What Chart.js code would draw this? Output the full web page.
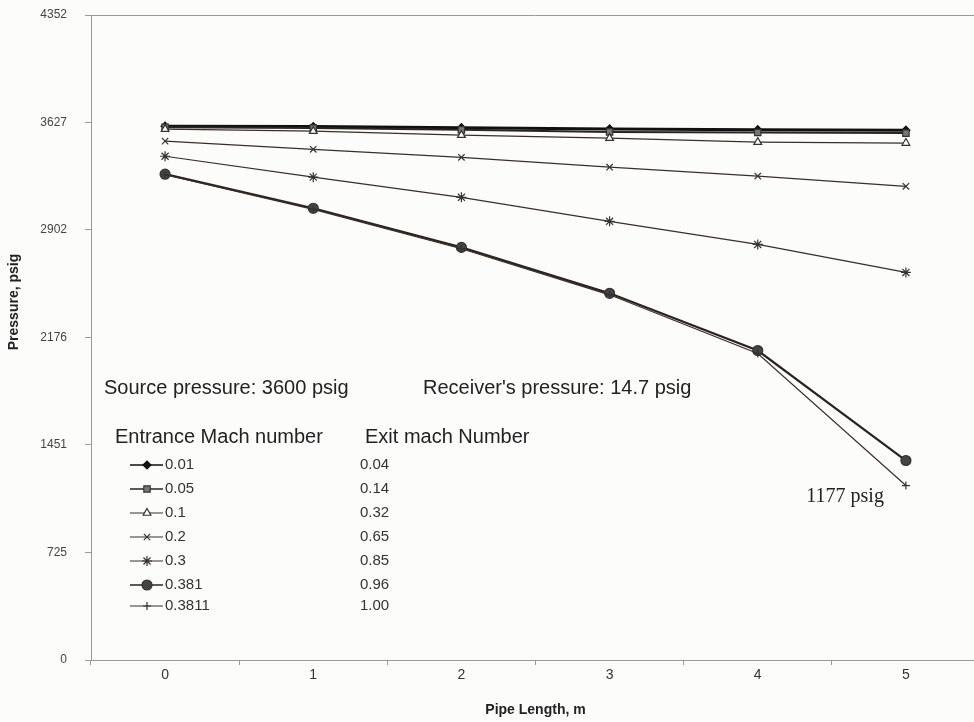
<!DOCTYPE html>
<html>
<head>
<meta charset="utf-8">
<script src="https://cdn.jsdelivr.net/npm/chart.js@4/dist/chart.umd.min.js"></script>
<style>
  html, body { margin: 0; padding: 0; background: #fcfcfa; }
  #wrap { width: 974px; height: 722px; overflow: hidden; position: relative; }
  #wrap canvas { position: absolute; left: 0; top: 0; }
</style>
</head>
<body>
<div id="wrap"><canvas id="pipe" width="980" height="722"></canvas></div>
<script>
// pipe length (m)
const categories = ["0", "1", "2", "3", "4", "5"];
const yTicks = [0, 725, 1451, 2176, 2902, 3627, 4352];

// entrance / exit mach numbers
const machIn = ["0.01", "0.05", "0.1", "0.2", "0.3", "0.381", "0.3811"];
const machExit = ["0.04", "0.14", "0.32", "0.65", "0.85", "0.96", "1.00"];

// pressure, psig
const p001 = [3602, 3599, 3592, 3583, 3578, 3575];
const p005 = [3595, 3589, 3577, 3563, 3559, 3555];
const p01 = [3582, 3568, 3541, 3521, 3494, 3488];
const p02 = [3501, 3446, 3392, 3325, 3265, 3196];
const p03 = [3399, 3258, 3122, 2960, 2804, 2615];
const p0381 = [3278, 3048, 2784, 2474, 2088, 1346];
const p03811 = [3274, 3041, 2775, 2464, 2068, 1177];

const series = [p001, p005, p01, p02, p03, p0381, p03811];
const styles = [
	{ line: "#111", w: 3, pt: "rectRot", r: 4, fill: "#111", stroke: "#111" },
	{ line: "#2a2420", w: 2, pt: "rect", r: 4.5, fill: "#777", stroke: "#333" },
	{ line: "#3a2e28", w: 1.2, pt: "triangle", r: 4.5, fill: "#fff", stroke: "#333" },
	{ line: "#3a2e28", w: 1.2, pt: "crossRot", r: 4.5, fill: "#333", stroke: "#333" },
	{ line: "#3a2e28", w: 1.2, pt: "star", r: 5, fill: "#333", stroke: "#333" },
	{ line: "#2a2420", w: 2.2, pt: "circle", r: 5, fill: "#444", stroke: "#333" },
	{ line: "#3a2e28", w: 1.2, pt: "cross", r: 4, fill: "#333", stroke: "#333" },
];

const SANS = "'Liberation Sans', Arial, sans-serif";
const NARROW = "'Liberation Sans Narrow', 'Arial Narrow', Arial, sans-serif";
Chart.defaults.font.family = SANS;
Chart.defaults.color = "#444";

const extras = {
	id: "extras",
	afterDraw(chart) {
		const ctx = chart.ctx;
		const area = chart.chartArea;
		ctx.save();
		// top border of plot area
		ctx.strokeStyle = "#999";
		ctx.lineWidth = 1;
		ctx.beginPath();
		ctx.moveTo(area.left, area.top + 0.5);
		ctx.lineTo(area.right, area.top + 0.5);
		ctx.stroke();

		// y axis title
		ctx.save();
		ctx.translate(14, 302);
		ctx.rotate(-Math.PI / 2);
		ctx.textAlign = "center";
		ctx.textBaseline = "middle";
		ctx.fillStyle = "#222";
		ctx.font = "bold 14px " + NARROW;
		ctx.fillText("Pressure, psig", 0, 0);
		ctx.restore();

		ctx.fillStyle = "#222";
		ctx.textBaseline = "middle";
		ctx.textAlign = "left";
		ctx.font = "20px " + SANS;
		ctx.fillText("Source pressure: 3600 psig", 104, 388);
		ctx.fillText("Receiver's pressure: 14.7 psig", 423, 388);
		ctx.fillText("Entrance Mach number", 115, 437);
		ctx.fillText("Exit mach Number", 365, 437);

		const rows = [465, 489, 513, 537, 561, 585, 606];
		ctx.font = "15px " + SANS;
		machIn.forEach((m, i) => {
			const s = styles[i];
			const y = rows[i];
			ctx.strokeStyle = s.line;
			ctx.lineWidth = Math.min(s.w, 1.5);
			ctx.beginPath();
			ctx.moveTo(130, y);
			ctx.lineTo(163, y);
			ctx.stroke();
			ctx.fillStyle = s.fill;
			ctx.strokeStyle = s.stroke;
			ctx.lineWidth = 1.2;
			Chart.helpers.drawPoint(ctx, { pointStyle: s.pt, radius: s.r, rotation: 0, borderWidth: 1.2 }, 147, y);
			ctx.fillStyle = "#333";
			ctx.fillText(m, 165, y);
			ctx.fillText(machExit[i], 360, y);
		});

		// end-point annotation
		const last = chart.getDatasetMeta(6).data[5];
		ctx.font = "20px 'Liberation Serif', 'Times New Roman', serif";
		ctx.textAlign = "right";
		ctx.fillStyle = "#222";
		ctx.fillText("1177 psig", last.x - 22, last.y + 11);
		ctx.restore();
	},
};

new Chart(document.getElementById("pipe"), {
	type: "line",
	data: {
		labels: categories,
		datasets: series.map((d, i) => ({
			label: machIn[i],
			data: d,
			borderColor: styles[i].line,
			borderWidth: styles[i].w,
			pointStyle: styles[i].pt,
			pointRadius: styles[i].r,
			pointBackgroundColor: styles[i].fill,
			pointBorderColor: styles[i].stroke,
			pointBorderWidth: 1.2,
			tension: 0,
			order: 6 - i,
		})),
	},
	options: {
		responsive: false,
		animation: false,
		layout: { autoPadding: false, padding: { top: 15, right: 0, left: 0, bottom: 0 } },
		plugins: {
			legend: { display: false },
			tooltip: { enabled: false },
		},
		scales: {
			x: {
				type: "category",
				offset: true,
				grid: { offset: true, drawOnChartArea: false, tickLength: 5, color: "#999" },
				border: { color: "#999" },
				ticks: {
					padding: 2,
					color: "#333",
					font: { family: NARROW, size: 14 },
				},
				title: {
					display: true,
					text: "Pipe Length, m",
					color: "#222",
					font: { family: NARROW, size: 14, weight: "bold" },
					padding: { top: 4, bottom: 3 },
				},
				afterFit(scale) { scale.height = 62; },
			},
			y: {
				min: 0,
				max: 4352,
				afterBuildTicks(scale) { scale.ticks = yTicks.map((v) => ({ value: v })); },
				grid: { drawOnChartArea: false, tickLength: 6, color: "#999" },
				border: { color: "#999" },
				ticks: {
					padding: 18,
					color: "#444",
					font: { size: 12 },
					callback: (v) => String(v),
				},
				title: { display: false },
				afterFit(scale) {
					scale.width = 91;
					scale.paddingTop = 0;
					scale.paddingBottom = 0;
				},
			},
		},
	},
	plugins: [extras],
});
</script>
</body>
</html>
